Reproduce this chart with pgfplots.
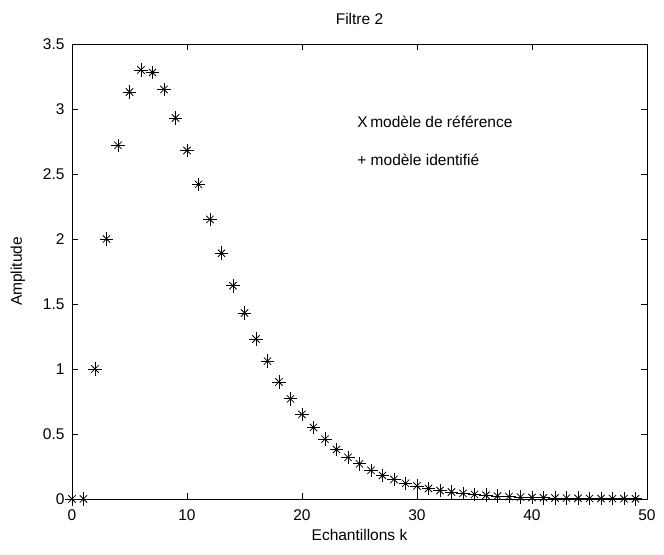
\documentclass[border=0pt]{standalone}
\usepackage{fontspec}
\setmainfont{Liberation Sans}
\usepackage{pgfplots}
\pgfplotsset{compat=1.18}
\newcommand{\fs}{\fontsize{15.5bp}{18bp}\selectfont}
\begin{document}
\begin{tikzpicture}
\begin{axis}[
  scale only axis,
  width=575bp, height=455bp,
  xmin=0, xmax=50, ymin=0, ymax=3.5,
  xtick={0,10,...,50},
  ytick={0,0.5,...,3.5},
  tick align=inside,
  tick pos=both,
  major tick length=6bp,
  axis line style={line width=0.8bp},
  every tick/.style={line width=0.8bp, black},
  /pgf/number format/assume math mode=true,
  tick label style={font=\fs},
  xticklabel style={yshift=-7bp},
  yticklabel style={/pgf/number format/fixed, xshift=-4bp},
  label style={font=\fs},
  title style={font=\fs, yshift=10bp},
  title={Filtre 2},
  xlabel={Echantillons k},
  ylabel={Amplitude},
  xlabel style={yshift=-2bp},
  ylabel style={yshift=11bp},
  clip=false,
]
\addplot[only marks, mark=x, mark size=5.2bp, mark options={line width=0.8bp}] coordinates {
(0,0) (1,0) (2,1.0) (3,2.0) (4,2.72) (5,3.13) (6,3.30) (7,3.28) (8,3.15) (9,2.93)
(10,2.68) (11,2.42) (12,2.15) (13,1.89) (14,1.64) (15,1.43) (16,1.23) (17,1.06) (18,0.90) (19,0.77)
(20,0.65) (21,0.55) (22,0.46) (23,0.38) (24,0.32) (25,0.27) (26,0.22) (27,0.18) (28,0.15) (29,0.12)
(30,0.10) (31,0.08) (32,0.065) (33,0.053) (34,0.043) (35,0.035) (36,0.028) (37,0.022) (38,0.018) (39,0.014)
(40,0.011) (41,0.009) (42,0.007) (43,0.006) (44,0.005) (45,0.004) (46,0.003) (47,0.0025) (48,0.002) (49,0.0015)
};
\addplot[only marks, mark=+, mark size=6.8bp, mark options={line width=0.8bp}] coordinates {
(0,0) (1,0) (2,1.0) (3,2.0) (4,2.72) (5,3.13) (6,3.30) (7,3.28) (8,3.15) (9,2.93)
(10,2.68) (11,2.42) (12,2.15) (13,1.89) (14,1.64) (15,1.43) (16,1.23) (17,1.06) (18,0.90) (19,0.77)
(20,0.65) (21,0.55) (22,0.46) (23,0.38) (24,0.32) (25,0.27) (26,0.22) (27,0.18) (28,0.15) (29,0.12)
(30,0.10) (31,0.08) (32,0.065) (33,0.053) (34,0.043) (35,0.035) (36,0.028) (37,0.022) (38,0.018) (39,0.014)
(40,0.011) (41,0.009) (42,0.007) (43,0.006) (44,0.005) (45,0.004) (46,0.003) (47,0.0025) (48,0.002) (49,0.0015)
};
\node[anchor=west, font=\fs, inner sep=0pt] at (axis cs:24.8,2.90) {X\,modèle de référence};
\node[anchor=west, font=\fs, inner sep=0pt] at (axis cs:24.8,2.61) {+ modèle identifié};
\coordinate (tl) at (axis cs:-6.26,3.838);
\coordinate (br) at (axis cs:51.48,-0.431);
\end{axis}
\path (tl) rectangle (br);
\end{tikzpicture}
\end{document}
